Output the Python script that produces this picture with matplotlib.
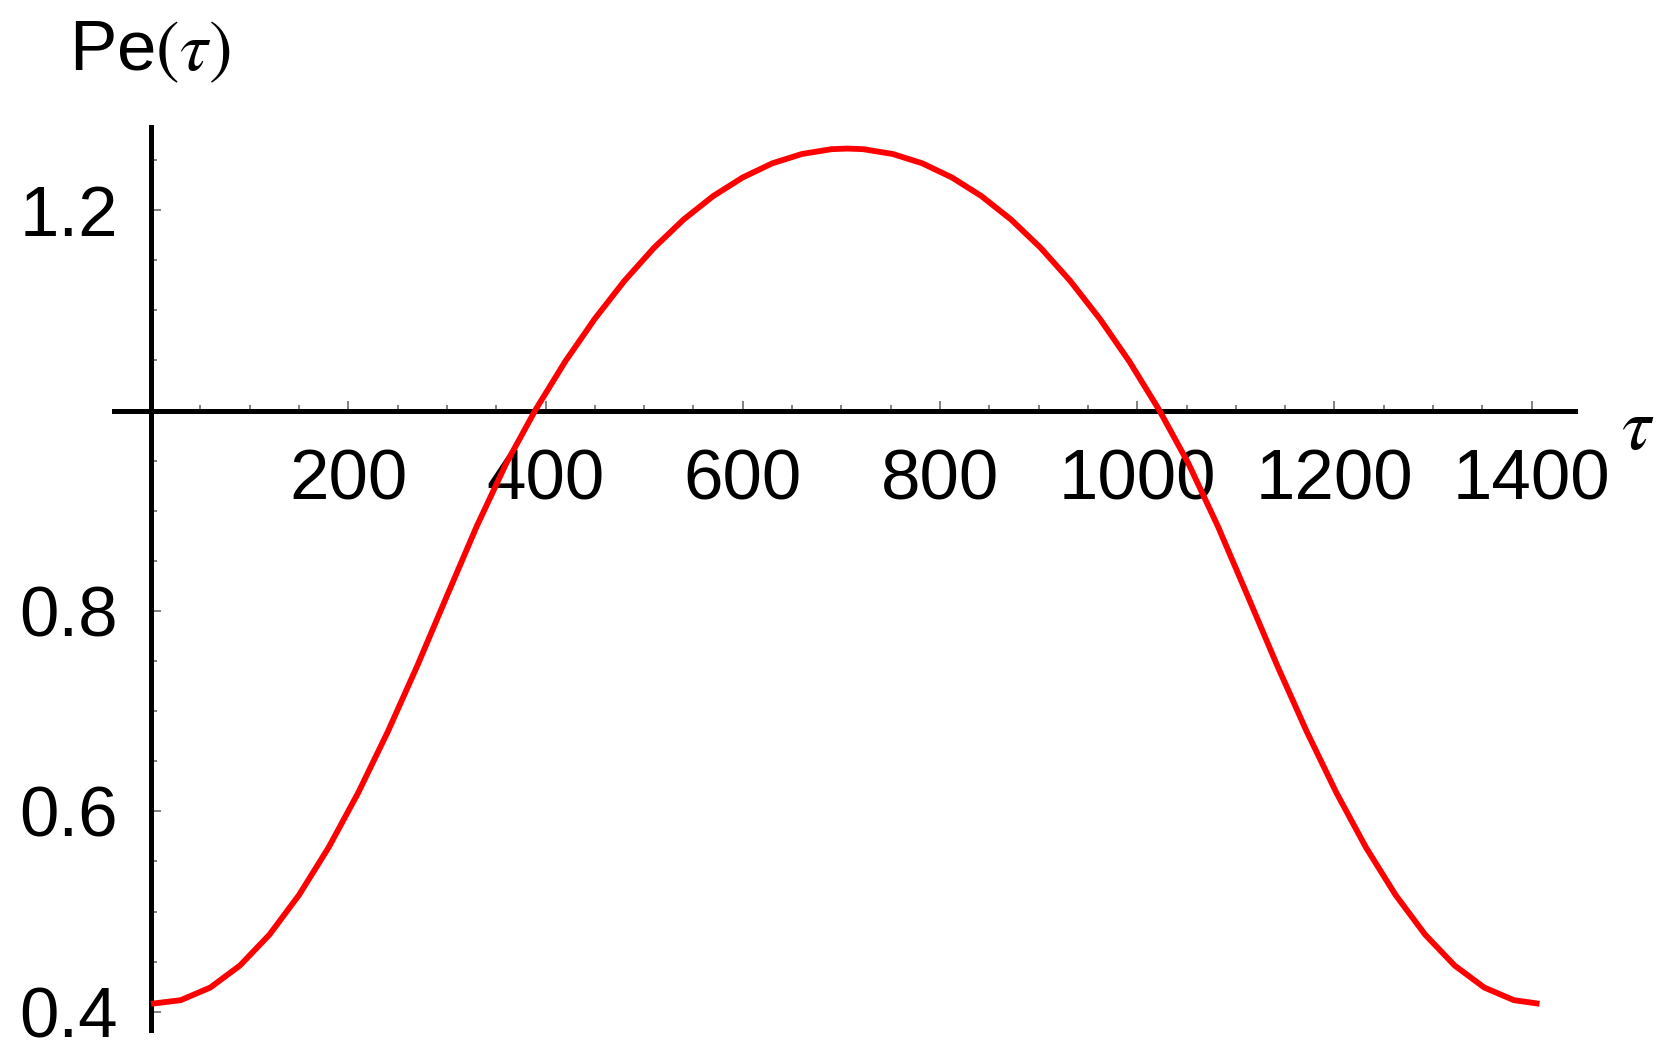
import matplotlib
matplotlib.use('Agg')
import matplotlib.pyplot as plt
from matplotlib.ticker import MultipleLocator

plt.rcParams['font.family'] = ['Liberation Sans', 'DejaVu Sans']
plt.rcParams['mathtext.fontset'] = 'stix'

# values (rising half, then falling half)
tau_up = [0, 30, 60, 90, 120, 150, 180, 210, 240, 270, 300, 330, 360, 390,
          420, 450, 480, 510, 540, 570, 600, 630, 660, 690, 706]
pe_up = [0.408, 0.4116, 0.4242, 0.4461, 0.477, 0.5166, 0.564, 0.6186, 0.6795,
         0.7455, 0.8151, 0.8841, 0.9471, 1.0011, 1.0491, 1.0917, 1.1295,
         1.1625, 1.1907, 1.2141, 1.2327, 1.2468, 1.2561, 1.2609, 1.2615]
tau_down = [722, 752, 782, 812, 842, 872, 902, 932, 962, 992, 1022, 1052,
            1082, 1112, 1142, 1172, 1202, 1232, 1262, 1292, 1322, 1352, 1382,
            1408]
pe_down = [1.2609, 1.2561, 1.2468, 1.2327, 1.2141, 1.1907, 1.1625, 1.1295,
           1.0917, 1.0491, 1.0011, 0.9471, 0.8841, 0.8151, 0.7455, 0.6795,
           0.6186, 0.564, 0.5166, 0.477, 0.4461, 0.4242, 0.4116, 0.408]

x_ticks = [200, 400, 600, 800, 1000, 1200, 1400]
y_ticks = [0.4, 0.6, 0.8, 1.2]
y_labels = ['0.4', '0.6', '0.8', '1.2']

fig = plt.figure(figsize=(16.69, 10.63), dpi=100)
ax = fig.add_axes([0.0681, 0.0312, 0.8756, 0.8493])
ax.plot(tau_up + tau_down, pe_up + pe_down, color='red', lw=4.2, zorder=3,
        solid_joinstyle='round', solid_capstyle='butt')

ax.set_xlim(-38, 1444)
ax.set_ylim(0.382, 1.283)

# Mathematica-style axes crossing at (0, 1)
for s in ('top', 'right'):
    ax.spines[s].set_visible(False)
ax.spines['left'].set_position(('data', 0))
ax.spines['bottom'].set_position(('data', 1.0))
for s in ('left', 'bottom'):
    ax.spines[s].set_linewidth(3.6)
    ax.spines[s].set_color('black')

ax.set_xticks(x_ticks, labels=[str(t) for t in x_ticks])
ax.set_yticks(y_ticks, labels=y_labels)
ax.xaxis.set_minor_locator(MultipleLocator(50))
ax.yaxis.set_minor_locator(MultipleLocator(0.05))

ax.tick_params(which='both', direction='in', color='#777777', width=1.3,
               labelsize=51)
ax.tick_params(which='major', length=7.5)
ax.tick_params(which='minor', length=4.5)
ax.tick_params(axis='x', pad=27)
ax.tick_params(axis='y', pad=24)

fig.text(0.0415, 0.9336, r'Pe$(\tau)$', fontsize=51, va='baseline')
fig.text(0.9814, 0.5964, r'$\tau$', fontsize=53, ha='center', va='center')

fig.savefig('out.png', dpi=100)
